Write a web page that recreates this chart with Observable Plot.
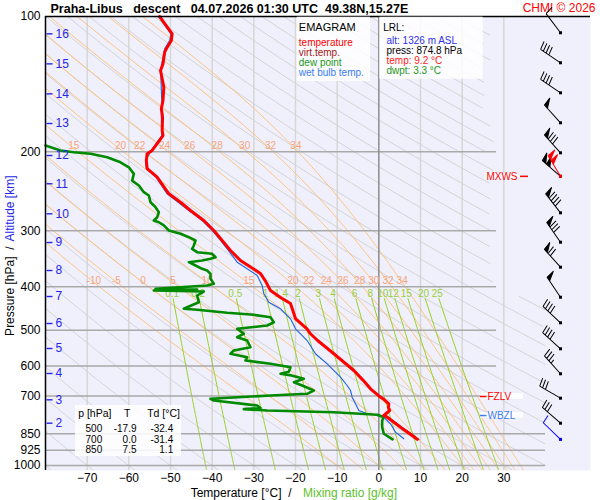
<!DOCTYPE html>
<html><head><meta charset="utf-8">
<script src="https://cdn.jsdelivr.net/npm/d3@7"></script>
<script src="https://cdn.jsdelivr.net/npm/@observablehq/plot@0.6"></script>
<style>
body{margin:0;background:#fff;}
#chart svg{display:block;}
</style></head><body><div id="chart"></div>
<script>
// ---------------- data ----------------
const tempP = [100,103,109.3,113.1,118,120.1,127.5,131.9,137.6,143.7,153.8,160.5,167.6,179.4,184.1,198.8,202.2,209.2,218.1,228,248.3,259.2,270.4,284.7,299.6,315.4,332,349.5,373.6,388.5,407.6,422.5,435.7,470.6,495.4,508.9,526.8,563.9,614.4,647,674.9,700,710,728.8,743,754.3,773.8,780.6,821.7,850,874.8];
const tempT = [-52.6,-51.6,-49.6,-49.8,-51.0,-51.4,-51.8,-52.4,-52.0,-51.6,-51.8,-52.2,-51.9,-52.0,-51.8,-54.4,-55.6,-55.8,-55.6,-53.2,-50.4,-47.6,-45.2,-42.0,-39.6,-37.6,-35.6,-33.2,-28.4,-27.2,-26.0,-23.6,-21.2,-20.0,-17.3,-16.4,-14.7,-10.8,-6.0,-3.7,-2.0,0.0,1.0,2.4,2.3,2.6,1.2,2.0,5.2,7.4,9.2];

const virtP = [563.9,614.4,647,674.9,700,710,728.8,743,754.3,773.8,780.6,821.7,850,874.8];
const virtT = [-10.7,-5.9,-3.6,-1.9,0.1,1.1,2.5,2.4,2.7,1.5,2.3,5.5,7.8,9.6];

const dewP = [193.7,198.8,200.6,202.2,205.8,211.2,216.7,224.1,232,237.9,246.2,250.4,259.2,265.9,272.9,280,284.7,287.2,292,299.6,304.8,310.1,315.4,323.6,329.2,334.9,337.7,343.7,346.5,349.5,352.5,358.6,364.7,367.9,374.2,383.9,393.8,397.3,404.1,405.6,407.6,409.7,418.2,432.8,444.1,447.7,450,457,461.7,467.4,479.6,487.8,496.1,508.9,517.9,526.8,545.2,554.5,563.9,573.8,583.7,593.6,604.1,618,624.8,630,641.1,652.3,663.5,680.7,692.4,698.4,710.4,716.6,735.2,745,749,754.3,760.9,771,780.6,793.9,821.7,849.9,874.8];
const dewT = [-80,-76.4,-73.2,-69.2,-65.2,-62.0,-60.0,-58.8,-59.2,-57.6,-56.4,-55.2,-54.8,-53.6,-52.8,-53.2,-54.0,-52.8,-51.6,-50.4,-47.6,-45.6,-44.0,-44.4,-44.8,-43.6,-40.0,-39.2,-40.4,-42.4,-45.6,-44.0,-42.4,-41.2,-40.4,-40.4,-39.6,-41.2,-53.6,-43.6,-54.0,-42.0,-43.6,-43.2,-46.0,-46.8,-43.6,-36.4,-30.0,-26.0,-25.2,-26.8,-34.0,-32.4,-34.0,-31.6,-30.8,-34.8,-35.6,-31.6,-32.0,-26.0,-21.2,-21.6,-23.6,-21.0,-18.0,-20.4,-18.4,-15.6,-17.2,-26.0,-40.4,-39.6,-29.2,-28.4,-32.4,-26.8,-10.8,-0.4,1.2,0.8,0.8,1.2,3.3];

const wbP = [100,109.3,113.1,118,127.5,137.6,153.8,167.6,184.1,198.8,209.2,218.1,228,248.3,270.4,284.7,299.6,315.4,329.2,352.5,377.4,397.3,414.6,432.8,447.7,471.3,496.1,526.8,563.9,593.6,635.8,663.5,680.7,704.5,728.8,754.3,767.1,773.8,807.5,843,872];
const wbT = [-52.9,-49.9,-50.2,-51.4,-52.1,-52.3,-52.1,-52.2,-52.1,-54.6,-56.0,-55.8,-53.5,-50.8,-45.6,-42.4,-40.0,-38.0,-36.4,-34.0,-29.2,-28.0,-27.6,-26.4,-23.6,-21.2,-20.0,-17.2,-15.2,-12.4,-9.2,-7.6,-6.8,-6.4,-5.6,-4.8,-2.8,0.8,2.8,4.0,6.0];

const windP   = [108.7,126.8,147.9,172.5,201.2,226.9,226.9,273.7,318.2,361.7,421.9,481.1,549.6,624.8,708.1,805.0,874.8];
const windDir = [323,304,304,318,318,311,329,322,325,318,326,313,312,318,300,311,314];
const windSpd = [10,40,40,50,80,100,100,90,80,70,50,40,40,35,30,30,10];
const windKind = ["","","","","","","max","","","","","","","","","","lrl"];

const pTicks = [100,200,300,400,500,600,700,850,925,1000];
const tTicks = [-70,-60,-50,-40,-30,-20,-10,0,10,20,30];
const kmVals = [16,15,14,13,12,11,10,9,8,7,6,5,4,3,2];
const kmP    = [109.3,127.5,148.7,173.1,204.0,235.8,275.1,318.7,367.9,420.4,482.8,548.8,623.9,714.0,805.0];

const thetaW = [-10,-5,0,5,10,15,20,22,24,26,28,30,32,34];
const twLab400  = [-10,-5,0,5,10,15,20,22,24,26,28,30,32,34];
const twLab400T = [-68.4,-63.0,-56.6,-49.4,-41.2,-31.2,-20.6,-16.8,-12.6,-8.6,-4.6,-1.2,2.2,5.6];
const twLab200  = [15,20,22,24,26,28,30,32,34];
const twLab200T = [-73.2,-62.0,-57.4,-51.4,-45.4,-38.8,-32.2,-26.0,-19.9];
const mixVals = [0.1,0.2,0.5,1,1.4,2,3,4,6,8,10,12,15,20,25];
const dryThetaC = d3.range(-80, 330, 10);

const tableP = [500,700,850];
const tableT = ["-17.9","0.0","7.5"];
const tableTd = ["-32.4","-31.4","1.1"];
const lrl = {alt: 1326, press: 874.8, temp: 9.2, dwpt: 3.3};
const levelFZLV = 702, levelWBZL = 774, levelMXWS = 227;

// ---------------- geometry helpers ----------------
const W = 600, H = 500, ML = 45, MR = 10, MT = 16, MB = 30;
const T0 = -80, T1 = -80 + (W - ML - MR) * 0.24, P0 = 1026, P1 = 100;
const tAt = px => T0 + (px - ML) * (T1 - T0) / (W - MR - ML);
const pAt = py => Math.exp(Math.log(P0) + (H - MB - py) / (H - MB - MT) * (Math.log(P1) - Math.log(P0)));
const BARB_T = tAt(560);

// thermodynamic reference lines
const Rd = 287.04, Cp = 1005.7, Lv = 2.501e6, EPS = 0.622;
const esat = tc => 6.112 * Math.exp(17.67 * tc / (tc + 243.5));
function dTdp(T, p) { const es = esat(T - 273.15); const rs = EPS * es / (p - es); return ((Rd * T + Lv * rs) / p) / (Cp + (Lv * Lv * rs * EPS) / (Rd * T * T)); }
function moistCurve(tw) {
  const step = (T, p, dp) => { const k1 = dTdp(T, p); const k2 = dTdp(T + k1 * dp / 2, p + dp / 2); return T + k2 * dp; };
  let T = tw + 273.15, p = 1000; const up = [{p, T: tw}];
  for (let i = 0; p > 100.5; i++) { T = step(T, p, -1); p -= 1; if (i % 5 === 4 || p <= 100.5) up.push({p, T: T - 273.15}); }
  T = tw + 273.15; p = 1000; const down = [];
  while (p < 1026) { T = step(T, p, 1); p += 1; down.push({p, T: T - 273.15}); }
  return [...down.reverse(), ...up].map(d => ({...d, tw}));
}
const moistData = thetaW.flatMap(moistCurve);
const pGrid = d3.range(100, 1026, 5).concat([1026]);
const dryData = dryThetaC.flatMap(th => pGrid.map(p => {
  const T = (th + 273.15) * Math.pow(p / 1000, 0.2857) - 273.15;
  const tmax = p < 420 ? 27.5 : 40;
  return {th, p, T: T <= tmax ? T : NaN};
}));
const mrT = (w, p) => { const e = w * p / (622 + w); const a = Math.log(e / 6.112); return 243.5 * a / (17.67 - a); };
const mixData = mixVals.flatMap(w => d3.range(425, 1026, 5).concat([1026]).map(p => ({w, p, T: mrT(w, p)})));

const profile = (P, T) => P.map((p, i) => ({p, T: T[i]}));
const barbs = windP.map((p, i) => ({p, dir: windDir[i], spd: windSpd[i], kind: windKind[i]}));
const barbColor = d => d.kind === "max" ? "#ff0000" : d.kind === "lrl" ? "#0000ff" : "#000000";

function barbShape(speed) {
  return {
    draw(ctx, l) {
      ctx.moveTo(0, 0); ctx.lineTo(0, -l);
      let s = Math.round(speed / 5) * 5, pos = l;
      const fl = 8.5, fs = 1.5, gap = 3.3;
      while (s >= 50) { ctx.moveTo(0, -pos); ctx.lineTo(fl, -pos - fs); ctx.lineTo(0, -pos + 4.5); ctx.closePath(); pos -= 5.5; s -= 50; }
      while (s >= 10) { ctx.moveTo(0, -pos); ctx.lineTo(fl, -pos - fs); pos -= gap; s -= 10; }
      if (s >= 5) { if (pos === l) pos -= gap; ctx.moveTo(0, -pos); ctx.lineTo(fl / 2, -pos - fs / 2); }
    }
  };
}

const FONT = "Liberation Sans, Arial, Helvetica, sans-serif";
const txt = (s, px, py, o = {}) => Plot.text([s], {x: tAt(px), y: pAt(py), text: d => d, fontFamily: FONT, fontSize: 10, textAnchor: "start", ...o});
const box = (x1, x2, y1, y2, o = {}) => Plot.rect([0], {x1: tAt(x1), x2: tAt(x2), y1: pAt(y2), y2: pAt(y1), fill: "white", fillOpacity: 0.85, ...o});

const BLUE = "#2626e8", GREEN = "#008a00", LGREEN = "#5cbf2a";

const barbMarks = [];
for (const s of [...new Set(windSpd)]) {
  for (const c of ["#000000", "#ff0000", "#0000ff"]) {
    const sub = barbs.filter(d => d.spd === s && barbColor(d) === c);
    if (!sub.length) continue;
    barbMarks.push(Plot.vector(sub, {x: () => BARB_T, y: "p", rotate: "dir", length: 24, anchor: "start", shape: barbShape(s), stroke: c, fill: c, strokeWidth: 1, strokeLinecap: "butt"}));
  }
}

const levelBox = (level, x1, x2) => Plot.rect([level], {x1: () => tAt(x1), x2: () => tAt(x2), y1: d => d * 0.985, y2: d => d * 1.015, fill: "white", fillOpacity: 0.85});

const chart = Plot.plot({
  width: W, height: H, marginLeft: ML, marginRight: MR, marginTop: MT, marginBottom: MB,
  style: {fontFamily: FONT, fontSize: "12px", background: "white", color: "black", overflow: "visible"},
  x: {domain: [T0, T1], ticks: tTicks, tickSize: 0, tickPadding: 3, label: null},
  y: {type: "log", domain: [P0, P1], ticks: pTicks, tickFormat: d => String(d), tickSize: 0, tickPadding: 5, label: null},
  marks: [
    Plot.frame({fill: "#f0f0fc", stroke: null}),
    Plot.ruleX(tTicks.filter(t => t !== 0), {stroke: "#d6d6d6", strokeWidth: 1.5}),
    Plot.line(dryData, {x: "T", y: "p", z: "th", stroke: "#d4d4d4", strokeWidth: 1, clip: true}),
    Plot.line(moistData, {x: "T", y: "p", z: "tw", stroke: "#ffbe73", strokeWidth: 0.9, clip: true}),
    Plot.line(mixData, {x: "T", y: "p", z: "w", stroke: "#95d11b", strokeWidth: 1, clip: true}),
    Plot.ruleY(pTicks.filter(p => p >= 200 && p <= 700), {x1: T0, x2: tAt(496), stroke: "#a9a9a9", strokeWidth: 1.5}),
    Plot.ruleY(pTicks.filter(p => p >= 850), {x1: T0, x2: tAt(545), stroke: "#a9a9a9", strokeWidth: 1.5}),
    Plot.ruleX([0], {stroke: "#8c8c8c", strokeWidth: 1.5}),
    Plot.text(twLab200, {x: (d, i) => twLab200T[i], y: () => pAt(145), text: d => String(d), fill: "#f7a47c", fontSize: 10, fontFamily: FONT}),
    Plot.text(twLab400, {x: (d, i) => twLab400T[i], y: () => pAt(280), text: d => String(d), fill: "#f7a47c", fontSize: 10, fontFamily: FONT}),
    Plot.text(mixVals, {x: d => mrT(d, 414), y: () => pAt(293), text: d => String(d), fill: "#98cf3a", fontSize: 10, fontFamily: FONT}),
    // profiles
    Plot.line(profile(wbP, wbT), {x: "T", y: "p", stroke: "#1f62e6", strokeWidth: 1.1}),
    Plot.line(profile(virtP, virtT), {x: "T", y: "p", stroke: "#9a0000", strokeWidth: 1.2}),
    Plot.line(profile(dewP, dewT), {x: "T", y: "p", stroke: GREEN, strokeWidth: 2.6, strokeLinejoin: "round"}),
    Plot.line(profile(tempP, tempT), {x: "T", y: "p", stroke: "#ff0000", strokeWidth: 3, strokeLinejoin: "round"}),
    // frame lines
    Plot.ruleY([100], {x1: T0, x2: T1, stroke: "black", strokeWidth: 1.5}),
    Plot.ruleX([T0], {stroke: "black", strokeWidth: 1.5}),
    // altitude scale
    Plot.ruleY(kmP, {x1: tAt(46.5), x2: tAt(52.5), stroke: BLUE, strokeWidth: 1.4}),
    Plot.text(kmVals, {x: () => tAt(55), y: (d, i) => kmP[i], text: d => String(d), fill: BLUE, fontSize: 12, textAnchor: "start", fontFamily: FONT}),
    // title
    txt("Praha-Libus\u00a0\u00a0\u00a0descent\u00a0\u00a0\u00a004.07.2026 01:30 UTC\u00a0\u00a049.38N,15.27E", 50, 8, {fontSize: 12.5, fontWeight: "bold"}),
    txt("CHMI \u00a9 2026", 595, 8, {fontSize: 12, fill: "#ff0000", textAnchor: "end"}),
    // axis titles
    txt("Temperature [\u00b0C]\u00a0\u00a0/", 291, 493, {fontSize: 12, textAnchor: "end"}),
    txt("Mixing ratio [g/kg]", 302.5, 493, {fontSize: 12, fill: LGREEN}),
    txt("Pressure [hPa]\u00a0\u00a0/", 10, 246, {fontSize: 12, textAnchor: "end", rotate: -90}),
    txt("Altitude [km]", 10, 241, {fontSize: 12, textAnchor: "start", rotate: -90, fill: BLUE}),
    // legend box
    box(296.7, 370, 16.7, 81),
    txt("EMAGRAM", 298.3, 26.5, {fontSize: 11}),
    txt("temperature", 298.3, 42.3, {fill: "#ff0000"}),
    txt("virt.temp.", 298.3, 52.3, {fill: "#a41414"}),
    txt("dew point", 298.3, 61.8, {fill: "#1a961a"}),
    txt("wet bulb temp.", 298.3, 71.8, {fill: "#3a7cf2"}),
    // LRL box
    box(379.3, 482.7, 16.7, 78.7),
    txt("LRL:", 382.7, 27.3, {fontSize: 10}),
    txt(`alt: ${lrl.alt} m ASL`, 386, 40, {fill: "#2f2fee", fontSize: 10}),
    txt(`press: ${lrl.press.toFixed(1)} hPa`, 386, 50.2, {fontSize: 10}),
    txt(`temp: ${lrl.temp.toFixed(1)} \u00b0C`, 386, 60.4, {fill: "#ff1a1a", fontSize: 10}),
    txt(`dwpt: ${lrl.dwpt.toFixed(1)} \u00b0C`, 386, 70.6, {fill: "#1a961a", fontSize: 10}),
    // table box
    box(75, 181, 405, 456),
    txt("p [hPa]", 77.7, 413.3, {fontSize: 10.5}),
    txt("T", 126.7, 413.3, {fontSize: 10.5, textAnchor: "middle"}),
    txt("Td [\u00b0C]", 146.7, 413.3, {fontSize: 10.5}),
    Plot.text(tableP, {x: () => tAt(101.7), y: (d, i) => pAt(428.7 + i * 10.2), text: d => String(d), textAnchor: "end", fontSize: 10, fontFamily: FONT}),
    Plot.text(tableT, {x: () => tAt(136), y: (d, i) => pAt(428.7 + i * 10.2), text: d => d, textAnchor: "end", fontSize: 10, fontFamily: FONT}),
    Plot.text(tableTd, {x: () => tAt(172.7), y: (d, i) => pAt(428.7 + i * 10.2), text: d => d, textAnchor: "end", fontSize: 10, fontFamily: FONT}),
    // level labels
    levelBox(levelMXWS, 485, 518.5),
    Plot.text([levelMXWS], {x: () => tAt(517), y: d => d, text: () => "MXWS", fill: "#ff0000", fontSize: 10, textAnchor: "end", fontFamily: FONT}),
    Plot.ruleY([levelMXWS], {x1: tAt(520), x2: tAt(528), stroke: "#ff0000", strokeWidth: 1.5}),
    levelBox(levelFZLV, 480, 523),
    Plot.ruleY([levelFZLV], {x1: tAt(480), x2: tAt(486.5), stroke: "#ff0000", strokeWidth: 1.5}),
    Plot.text([levelFZLV], {x: () => tAt(487), y: d => d, text: () => "FZLV", fill: "#ff0000", fontSize: 10, textAnchor: "start", fontFamily: FONT}),
    levelBox(levelWBZL, 480, 523),
    Plot.ruleY([levelWBZL], {x1: tAt(480), x2: tAt(486.5), stroke: "#3a7cf2", strokeWidth: 1.5}),
    Plot.text([levelWBZL], {x: () => tAt(487), y: d => d, text: () => "WBZL", fill: "#3a7cf2", fontSize: 10, textAnchor: "start", fontFamily: FONT}),
    // wind barbs
    ...barbMarks,
    Plot.dot(barbs, {x: () => BARB_T, y: "p", symbol: "square", r: 1.7, fill: barbColor, stroke: null})
  ]
});
document.getElementById("chart").appendChild(chart);
</script></body></html>
